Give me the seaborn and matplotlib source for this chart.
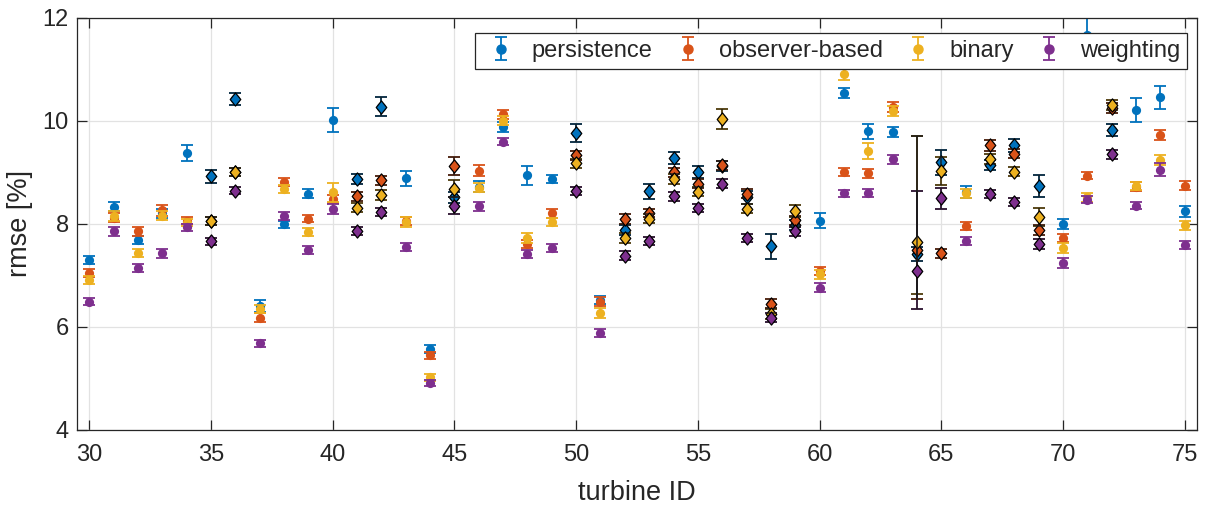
import numpy as np
import pandas as pd
import seaborn as sns
import matplotlib
matplotlib.use("Agg")
import matplotlib.pyplot as plt
from matplotlib.path import Path

turbines = list(range(30, 76))

persistence = [7.29, 8.33, 7.69, 8.20, 9.37, 8.92, 10.42, 6.40, 7.99, 8.58,
               10.01, 8.87, 10.27, 8.88, 5.57, 8.51, 8.72, 9.88, 8.94, 8.87,
               9.76, 6.52, 7.88, 8.63, 9.28, 9.00, 9.12, 8.51, 7.56, 7.97,
               8.06, 10.53, 9.79, 9.78, 7.41, 9.19, 8.62, 9.14, 9.52, 8.73,
               8.00, 11.67, 9.82, 10.21, 10.45, 8.24]
observer = [7.05, 8.12, 7.85, 8.26, 8.06, 8.05, 9.00, 6.18, 8.81, 8.10,
            8.48, 8.53, 8.84, 8.05, 5.45, 9.12, 9.03, 10.12, 7.61, 8.20,
            9.33, 6.49, 8.09, 8.21, 9.00, 8.78, 9.13, 8.58, 6.45, 8.07,
            7.08, 9.00, 8.98, 10.26, 7.50, 7.43, 7.95, 9.52, 9.36, 7.88,
            7.72, 8.93, 10.25, 8.72, 9.72, 8.74]
binary = [6.91, 8.15, 7.44, 8.16, 8.02, 8.06, 9.00, 6.35, 8.68, 7.84,
          8.61, 8.31, 8.56, 8.03, 5.02, 8.68, 8.70, 10.00, 7.73, 8.03,
          9.17, 6.27, 7.73, 8.10, 8.87, 8.62, 10.03, 8.29, 6.25, 8.25,
          7.02, 10.91, 9.41, 10.19, 7.64, 9.02, 8.59, 9.25, 9.01, 8.13,
          7.53, 8.51, 10.30, 8.73, 9.23, 7.97]
weighting = [6.49, 7.85, 7.14, 7.43, 7.93, 7.66, 8.64, 5.68, 8.15, 7.49,
             8.28, 7.86, 8.23, 7.55, 4.91, 8.35, 8.34, 9.59, 7.41, 7.53,
             8.64, 5.88, 7.38, 7.66, 8.53, 8.30, 8.78, 7.72, 6.18, 7.85,
             6.76, 8.59, 8.59, 9.25, 7.09, 8.49, 7.67, 8.58, 8.42, 7.61,
             7.24, 8.47, 9.35, 8.35, 9.05, 7.59]

persistence_err = [0.08, 0.09, 0.08, 0.08, 0.15, 0.13, 0.12, 0.12, 0.07, 0.09,
                   0.24, 0.09, 0.18, 0.14, 0.07, 0.10, 0.10, 0.10, 0.18, 0.08,
                   0.18, 0.08, 0.10, 0.15, 0.12, 0.12, 0.10, 0.12, 0.25, 0.10,
                   0.14, 0.10, 0.15, 0.10, 0.14, 0.25, 0.12, 0.10, 0.13, 0.21,
                   0.10, 0.35, 0.12, 0.23, 0.23, 0.10]
observer_err = [0.08, 0.08, 0.08, 0.10, 0.07, 0.08, 0.08, 0.08, 0.08, 0.07,
                0.08, 0.09, 0.09, 0.08, 0.07, 0.17, 0.10, 0.08, 0.08, 0.08,
                0.09, 0.08, 0.09, 0.08, 0.09, 0.09, 0.08, 0.09, 0.09, 0.09,
                0.08, 0.08, 0.09, 0.10, 0.96, 0.09, 0.08, 0.10, 0.09, 0.09,
                0.08, 0.07, 0.10, 0.08, 0.10, 0.08]
binary_err = [0.08, 0.09, 0.08, 0.08, 0.07, 0.08, 0.08, 0.08, 0.08, 0.08,
              0.18, 0.09, 0.09, 0.10, 0.07, 0.17, 0.09, 0.09, 0.10, 0.08,
              0.09, 0.09, 0.10, 0.09, 0.10, 0.09, 0.20, 0.09, 0.09, 0.12,
              0.09, 0.13, 0.15, 0.10, 1.01, 0.27, 0.09, 0.10, 0.09, 0.18,
              0.09, 0.08, 0.10, 0.08, 0.10, 0.09]
weighting_err = [0.07, 0.08, 0.07, 0.09, 0.07, 0.07, 0.07, 0.07, 0.07, 0.07,
                 0.10, 0.08, 0.08, 0.07, 0.06, 0.16, 0.09, 0.07, 0.08, 0.07,
                 0.08, 0.07, 0.09, 0.08, 0.08, 0.08, 0.08, 0.08, 0.09, 0.09,
                 0.09, 0.07, 0.08, 0.09, 0.74, 0.21, 0.08, 0.08, 0.08, 0.09,
                 0.09, 0.07, 0.09, 0.07, 0.13, 0.08]
# upper error for turbine 64 (confidence interval is skewed there)
upper_err_64 = {"persistence": 0.14, "observer-based": 2.20,
                "binary": 2.06, "weighting": 1.55}

significant = [35, 36, 41, 42, 45, 50, 52, 53, 54, 55, 56, 57, 58, 59,
               64, 65, 67, 68, 69, 72]

methods = ["persistence", "observer-based", "binary", "weighting"]
colors = ["#0072BD", "#D95319", "#EDB120", "#7E2F8E"]
values = [persistence, observer, binary, weighting]
errors = [persistence_err, observer_err, binary_err, weighting_err]

rows = []
for m, v, e in zip(methods, values, errors):
    for t, y, err in zip(turbines, v, e):
        hi = upper_err_64[m] if t == 64 else err
        rows.append(dict(turbine=t, method=m, rmse=y, lo=err, hi=hi,
                         sig=t in significant))
df = pd.DataFrame(rows)

sns.set_theme(style="whitegrid")
plt.rcParams["font.family"] = ["Liberation Sans", "DejaVu Sans"]

fig = plt.figure(figsize=(12.08, 5.12), dpi=100)
ax = fig.add_axes([77 / 1208, 1 - 430 / 512, 1120 / 1208, 412.5 / 512])

diamond = Path([(0, 1), (0.8, 0), (0, -1), (-0.8, 0), (0, 1)],
               [Path.MOVETO, Path.LINETO, Path.LINETO, Path.LINETO, Path.CLOSEPOLY])

z = 2
for m, c in zip(methods, colors):
    sub = df[df.method == m]
    ax.errorbar(sub.turbine, sub.rmse, yerr=[sub.lo, sub.hi], fmt="none",
                ecolor=c, elinewidth=1.3, capsize=4.5, capthick=1.3, zorder=z)
    sns.scatterplot(data=sub, x="turbine", y="rmse", marker="o", s=44,
                    color=c, edgecolor=c, linewidth=0, legend=False, ax=ax,
                    zorder=z + 0.5)
    z += 1
for m, c in zip(methods, colors):
    sub = df[(df.method == m) & df.sig]
    ax.errorbar(sub.turbine, sub.rmse, yerr=[sub.lo, sub.hi], fmt="none",
                ecolor=(0.1, 0.1, 0.1, 0.75), elinewidth=1.3, capsize=4.5,
                capthick=1.3, zorder=z)
    sns.scatterplot(data=sub, x="turbine", y="rmse", marker=diamond, s=90,
                    color=c, edgecolor="black", linewidth=0.9, legend=False,
                    ax=ax, zorder=z + 0.5)
    z += 1

handles = []
for m, c in zip(methods, colors):
    h = ax.errorbar([np.nan], [np.nan], yerr=[0.3], fmt="o", color=c, ms=6.5,
                    elinewidth=1.3, capsize=4.5, capthick=1.3, label=m)
    handles.append(h)

ax.set_xlim(29.5, 75.5)
ax.set_ylim(4, 12)
ax.set_xticks(range(30, 76, 5))
ax.set_yticks(range(4, 13, 2))
ax.set_xlabel("turbine ID", fontsize=19.5, color="#262626", labelpad=10)
ax.set_ylabel("rmse [%]", fontsize=19.5, color="#262626", labelpad=7)
ax.tick_params(axis="both", which="major", labelsize=17, labelcolor="#262626",
               direction="in", length=7, width=0.9, color="#262626",
               bottom=True, left=True, top=True, right=True)
ax.tick_params(axis="x", pad=10)
ax.tick_params(axis="y", pad=6)
ax.grid(True, color="#e2e2e2", linewidth=0.9)
for s in ax.spines.values():
    s.set_color("#262626")
    s.set_linewidth(0.9)
    s.set_visible(True)
ax.set_facecolor("white")

leg = ax.legend(handles=handles, labels=methods, loc="upper right",
                bbox_to_anchor=(0.991, 0.963), borderaxespad=0, ncol=4,
                fontsize=17, frameon=True, fancybox=False, framealpha=1,
                edgecolor="#262626", handlelength=1.6, handletextpad=0.5,
                columnspacing=0.7, borderpad=0.3)
leg.get_frame().set_linewidth(0.9)
leg.set_zorder(20)

fig.savefig("out.png", dpi=100, facecolor="white")
